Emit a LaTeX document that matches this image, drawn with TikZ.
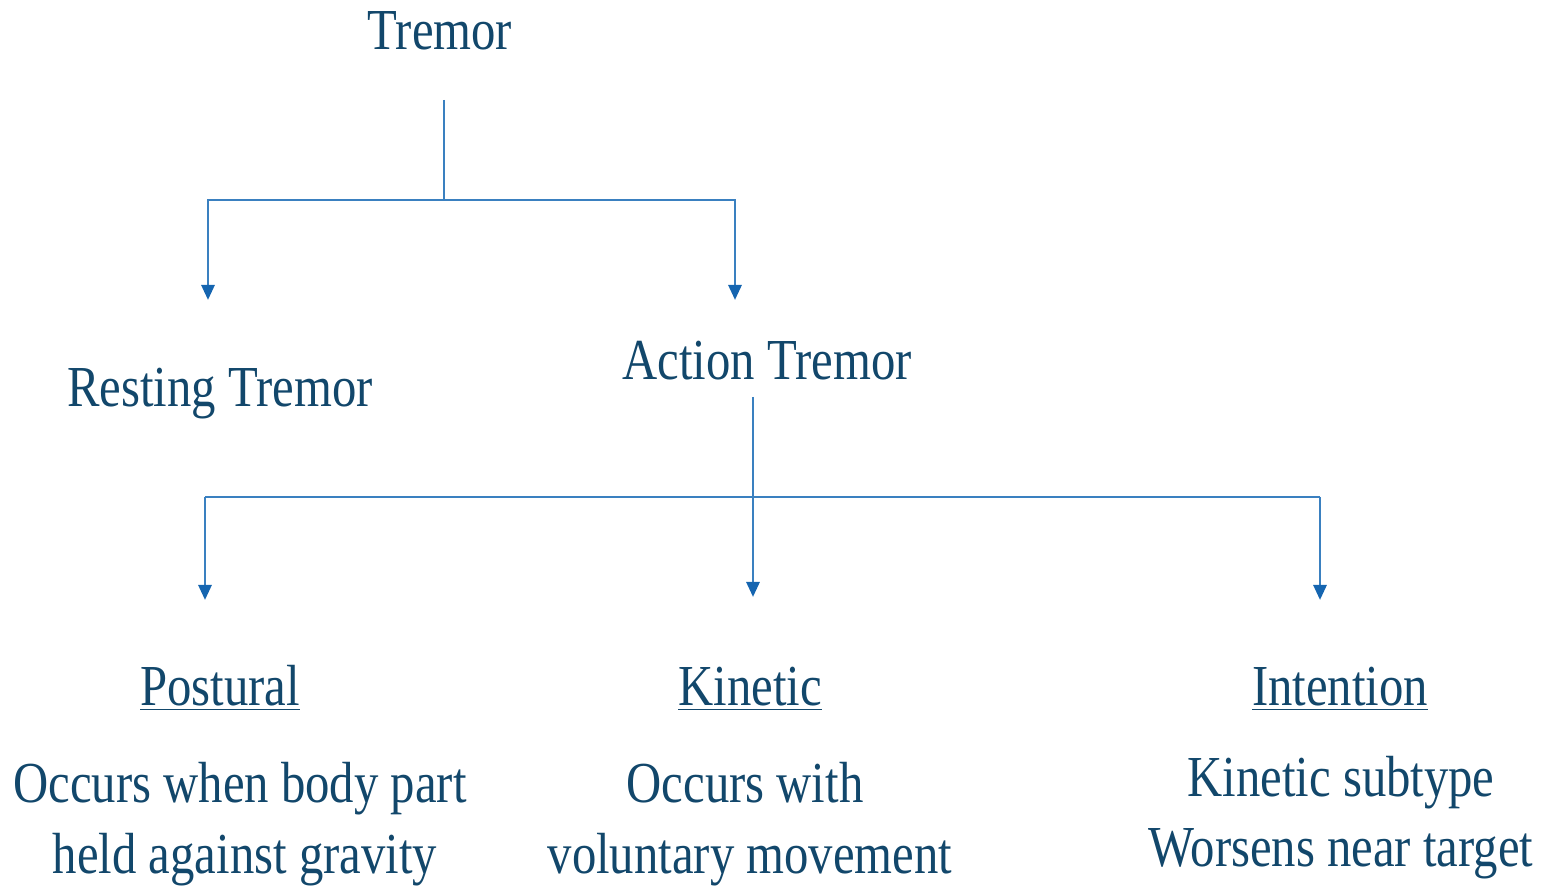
\documentclass[tikz,border=0pt]{standalone}
\usepackage{fontspec}
\setmainfont[FakeStretch=0.84]{Liberation Serif}
\usetikzlibrary{arrows.meta}
\definecolor{textc}{HTML}{12476B}
\definecolor{linec}{HTML}{3A80C0}
\definecolor{tipc}{HTML}{1565B0}
\tikzset{
  lbl/.style={text=textc, font=\fontsize{29}{35}\selectfont, inner sep=0pt, anchor=base},
  conn/.style={draw=linec, line width=1.4pt},
  arr/.style={conn, -{Triangle[width=6.5pt,length=7.5pt,color=tipc]}},
}
\newcommand{\ul}[1]{\underline{#1}}
\begin{document}
\begin{tikzpicture}[x=0.5pt,y=-0.5pt]
\useasboundingbox (0,0) rectangle (1553,886);
% texts
\node[lbl] (tremor) at (440,50) {Tremor};
\node[lbl] (resting) at (220,407) {Resting Tremor};
\node[lbl] (action) at (767,380) {Action Tremor};
\node[lbl] (postural) at (220,706) {\ul{Postural}};
\node[lbl] (kinetic) at (750,706) {\ul{Kinetic}};
\node[lbl] (intention) at (1340,706) {\ul{Intention}};
\node[lbl] (p1) at (240,803) {Occurs when body part};
\node[lbl] (p2) at (245,873) {held against gravity};
\node[lbl] (k1) at (745,803) {Occurs with};
\node[lbl] (k2) at (750,873) {voluntary movement};
\node[lbl] (i1) at (1341,797) {Kinetic subtype};
\node[lbl] (i2) at (1341,867) {Worsens near target};
% connector points
\coordinate (t0) at (444,100);
\coordinate (tj) at (444,200);
\coordinate (tl) at (208,200);
\coordinate (tr) at (735,200);
\coordinate (restEnd) at (208,300);
\coordinate (actEnd) at (735,300);
\coordinate (a0) at (753,397);
\coordinate (al) at (205,497);
\coordinate (ar) at (1320,497);
\coordinate (postEnd) at (205,600);
\coordinate (kinEnd) at (753,597);
\coordinate (intEnd) at (1320,600);
% connectors
\draw[conn] (t0) -- (tj);
\draw[arr] (tj) -- (tl) -- (restEnd);
\draw[arr] (tj) -- (tr) -- (actEnd);
\draw[arr] (a0) -- (kinEnd);
\draw[conn] (al) -- (ar);
\draw[arr] (al) -- (postEnd);
\draw[arr] (ar) -- (intEnd);
\end{tikzpicture}
\end{document}
